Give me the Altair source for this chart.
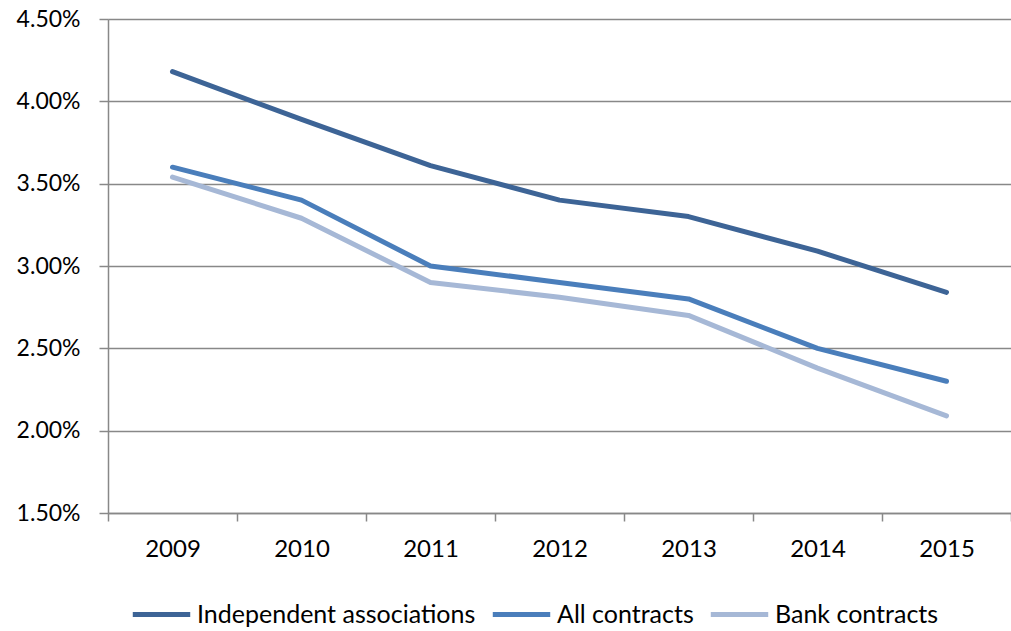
import altair as alt
import pandas as pd

years = ["2009", "2010", "2011", "2012", "2013", "2014", "2015"]
independent = [4.18, 3.89, 3.61, 3.40, 3.30, 3.09, 2.84]
all_contracts = [3.60, 3.40, 3.00, 2.90, 2.80, 2.50, 2.30]
bank = [3.54, 3.29, 2.90, 2.81, 2.70, 2.38, 2.09]
series_names = ["Independent associations", "All contracts", "Bank contracts"]
colors = ["#3D6496", "#4A7EBB", "#A6B8D6"]
y_ticks = [1.5, 2.0, 2.5, 3.0, 3.5, 4.0, 4.5]

rows = []
for name, vals in zip(series_names, [independent, all_contracts, bank]):
    for y, v in zip(years, vals):
        rows.append({"year": y, "value": v, "series": name})
df = pd.DataFrame(rows)

FONT = "Lato"

chart = alt.Chart(df).mark_line(strokeWidth=5, strokeCap="round", strokeJoin="round").encode(
    x=alt.X("year:N", sort=years,
            scale=alt.Scale(type="band", paddingInner=0, paddingOuter=0),
            axis=alt.Axis(title=None, labelAngle=0, tickBand="extent", labelFontSize=24,
                          labelFont=FONT, labelColor="#000000", tickSize=8, tickColor="#888888",
                          tickWidth=1.5, domainColor="#888888", domainWidth=1.5, labelPadding=16,
                          grid=False)),
    y=alt.Y("value:Q",
            scale=alt.Scale(domain=[1.5, 4.5], nice=False, zero=False),
            axis=alt.Axis(title=None, values=y_ticks,
                          labelExpr="format(datum.value, '.2f') + '%'",
                          labelFontSize=23, labelFont=FONT, labelColor="#000000",
                          tickSize=9, tickColor="#888888", tickWidth=1.5,
                          domainColor="#888888", domainWidth=1.5, labelPadding=19,
                          grid=True, gridColor="#888888", gridWidth=1.5)),
    color=alt.Color("series:N", sort=series_names,
                    scale=alt.Scale(domain=series_names, range=colors),
                    legend=alt.Legend(title=None, orient="none", direction="horizontal",
                                      legendX=22, legendY=564, gridAlign="none",
                                      symbolType="stroke", symbolSize=3300, symbolStrokeWidth=5,
                                      labelFontSize=25, labelFont=FONT, labelColor="#000000",
                                      labelLimit=0, labelOffset=4, columnPadding=6,
                                      symbolOffset=0)),
    order=alt.Order("series:N"),
).properties(
    width=903, height=494,
    autosize=alt.AutoSizeParams(type="none"),
    padding={"left": 108, "top": 19, "right": 0, "bottom": 118},
).configure_view(stroke=None).configure(background="white")

chart.save("out.html", embed_options={"renderer": "svg", "actions": False})
